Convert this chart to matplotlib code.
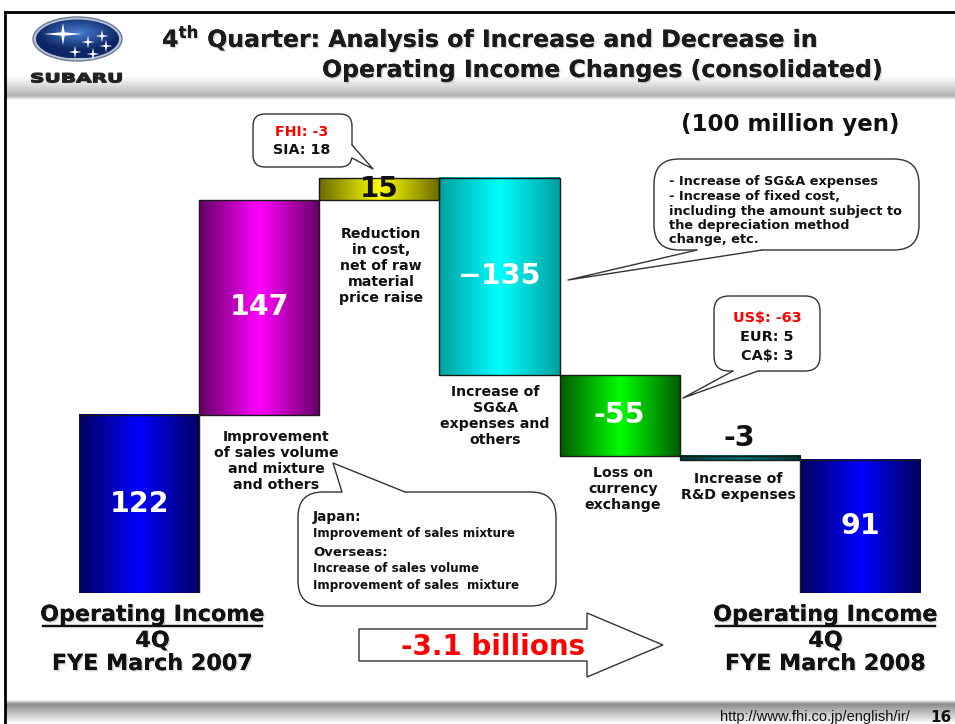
import numpy as np
import matplotlib
matplotlib.use("Agg")
import matplotlib.pyplot as plt
import matplotlib.patheffects as pe
from matplotlib.patches import FancyBboxPatch, Polygon, Ellipse, PathPatch
from matplotlib.colors import to_rgb
from matplotlib.textpath import TextPath
from matplotlib.font_manager import FontProperties
from matplotlib.transforms import Affine2D

plt.rcParams["font.family"] = ["DejaVu Sans"]

# waterfall data (100 million yen)
categories = ["Operating Income 4Q FYE March 2007",
              "Improvement of sales volume and mixture and others",
              "Reduction in cost, net of raw material price raise",
              "Increase of SG&A expenses and others",
              "Loss on currency exchange",
              "Increase of R&D expenses",
              "Operating Income 4Q FYE March 2008"]
values = [122, 147, 15, -135, -55, -3, 91]
is_total = [True, False, False, False, False, False, True]
value_labels = ["122", "147", "15", "\u2212135", "-55", "-3", "91"]

cat_texts = ["Improvement\nof sales volume\nand mixture\nand others",
             "Reduction\nin cost,\nnet of raw\nmaterial\nprice raise",
             "Increase of\nSG&A\nexpenses and\nothers",
             "Loss on\ncurrency\nexchange",
             "Increase of\nR&D expenses"]

# gradient colours: (edge, centre)
grads = [("#00005e", "#0000ff"), ("#640064", "#ff00ff"), ("#6a6a00", "#ffff00"),
         ("#00a0a0", "#00ffff"), ("#005a00", "#00ff00"), ("#003838", "#007272"),
         ("#00005e", "#0000ff")]

W, H = 955, 724
fig = plt.figure(figsize=(W / 100, H / 100), dpi=100)
fig.patch.set_facecolor("white")

# pixel overlay for slide decoration
ov = fig.add_axes([0, 0, 1, 1], zorder=5)
ov.set_xlim(0, W)
ov.set_ylim(H, 0)
ov.set_axis_off()
ov.patch.set_alpha(0)

# chart axes
PX_PER_UNIT = 1.462
left_px, right_px, top_px, base_px = 79, 920, 150, 593
ax = fig.add_axes([left_px / W, (H - base_px) / H, (right_px - left_px) / W, (base_px - top_px) / H], zorder=3)
ax.set_axis_off()
ax.patch.set_alpha(0)

x = np.arange(len(values))
bottoms, heights = [], []
run = 0
for v, tot in zip(values, is_total):
    if tot:
        bottoms.append(0)
        heights.append(v)
        run = v
    else:
        bottoms.append(run if v >= 0 else run + v)
        heights.append(abs(v))
        run += v

bars = ax.bar(x, heights, bottom=bottoms, width=1.0, facecolor="none",
              edgecolor="#1a1a1a", linewidth=1.0, zorder=3)
t = np.linspace(0, 1, 256)
prof = 1 - np.abs(2 * t - 1)
for rect, (c0, c1) in zip(bars, grads):
    a0, a1 = np.array(to_rgb(c0)), np.array(to_rgb(c1))
    img = (a0 + (a1 - a0) * prof[:, None])[None, :, :]
    x0, y0, w, h = rect.get_x(), rect.get_y(), rect.get_width(), rect.get_height()
    ax.imshow(img, extent=[x0, x0 + w, y0, y0 + h], aspect="auto",
              interpolation="bilinear", zorder=2)
ax.set_xlim(-0.5, len(values) - 0.5)
ax.set_ylim(0, (base_px - top_px) / PX_PER_UNIT)

for i, (b, h, lab) in enumerate(zip(bottoms, heights, value_labels)):
    if i == 5:
        ax.annotate(lab, (i, b + h), xytext=(0, 13), textcoords="offset points",
                    ha="center", va="center", fontsize=20.5, fontweight="bold",
                    color="#111111", zorder=6)
    elif i == 2:
        ax.text(i, b + h / 2, lab, ha="center", va="center", fontsize=20,
                fontweight="bold", color="#111111", zorder=6)
    else:
        ax.text(i, b + h / 2, lab, ha="center", va="center", fontsize=20.5,
                fontweight="bold", color="white", zorder=6)

# category labels under the change bars
cat_pos = [(276, 461), (381, 266), (495, 416), (623, 489), (738, 487)]
for (cx, cy), txt in zip(cat_pos, cat_texts):
    ov.text(cx, cy, txt, ha="center", va="center", multialignment="center",
            fontsize=10.2, fontweight="bold", color="#111111", zorder=4)

# ---- slide frame, header, footer ----
def vgrad(y0, y1, c0, c1, x0=5, x1=W):
    a0, a1 = np.array(to_rgb(c0)), np.array(to_rgb(c1))
    tt = np.linspace(0, 1, 64)
    img = (a0 + (a1 - a0) * tt[:, None])[:, None, :]
    ov.imshow(img, extent=[x0, x1, y1, y0], aspect="auto", interpolation="bilinear", zorder=1)

vgrad(76, 96, "#ffffff", "#b4b4b4")
vgrad(96, 100, "#b4b4b4", "#ffffff")
vgrad(700, 704, "#ffffff", "#8c8c8c")
vgrad(704, 722, "#8c8c8c", "#f6f6f6")
ov.plot([5, 5], [12, H], color="black", lw=2, zorder=8)
ov.plot([5, W], [12, 12], color="black", lw=2, zorder=8)

# logo
outer = Ellipse((77.5, 39), 89, 44, fc="#b8c2d4", ec="#6d7d99", lw=1, zorder=2)
ov.add_patch(outer)
inner = Ellipse((77.5, 39), 83, 39, fc="none", ec="none", zorder=3)
ov.add_patch(inner)
gx, gy = np.meshgrid(np.linspace(-1, 1, 120), np.linspace(-1, 1, 80))
rad = np.clip(np.sqrt(gx ** 2 + ((gy + 0.3) * 1.1) ** 2), 0, 1)
b0, b1 = np.array(to_rgb("#4a7fd0")), np.array(to_rgb("#0b2565"))
logo_img = b0 + (b1 - b0) * rad[:, :, None]
im = ov.imshow(logo_img, extent=[36, 119, 58.5, 19.5], aspect="auto", zorder=3)
im.set_clip_path(inner)


def star(cx, cy, rx, ry):
    pts = []
    r_in = min(rx, ry) * 0.22
    for k in range(8):
        ang = np.pi / 4 * k
        if k % 2 == 0:
            rr = rx if k % 4 == 0 else ry
            pts.append((cx + rr * np.cos(ang), cy - rr * np.sin(ang)))
        else:
            pts.append((cx + r_in * np.cos(ang), cy - r_in * np.sin(ang)))
    return Polygon(pts, closed=True, fc="white", ec="none", zorder=4)


ov.add_patch(star(63, 34, 19, 11))
for sx_, sy_ in [(102, 36), (88, 42), (106, 46), (75, 52), (93, 54)]:
    ov.add_patch(star(sx_, sy_, 6.5, 6.5))

tp = TextPath((0, 0), "SUBARU", size=1, prop=FontProperties(family="DejaVu Sans", weight="bold"))
ext = tp.get_extents()
tr = Affine2D().translate(-ext.x0, -ext.y0).scale(90 / ext.width, -9.5 / ext.height).translate(31.5, 82.5)
ov.add_patch(PathPatch(tr.transform_path(tp), fc="#222222", ec="#222222", lw=0.9, zorder=4))

shadow = [pe.withSimplePatchShadow(offset=(1, -1), shadow_rgbFace="#a0a0a0", alpha=0.45), pe.Normal()]
ov.text(162, 47, r"4$^{\mathbf{th}}$ Quarter: Analysis of Increase and Decrease in", ha="left",
        va="baseline", fontsize=17, fontweight="bold", color="#1a1a1a", path_effects=shadow, zorder=6)
ov.text(322, 77, "Operating Income Changes (consolidated)", ha="left", va="baseline",
        fontsize=17, fontweight="bold", color="#1a1a1a", path_effects=shadow, zorder=6)
ov.text(681, 125, "(100 million yen)", ha="left", va="center", fontsize=16.5,
        fontweight="bold", color="#111111", zorder=6)

ov.text(910, 717, "http://www.fhi.co.jp/english/ir/", ha="right", va="center",
        fontsize=10.5, family="Liberation Sans", color="#111111", zorder=6)
ov.text(930, 717, "16", ha="left", va="center", fontsize=11, fontweight="bold",
        color="#111111", zorder=6)


# ---- callouts ----
def callout(x0, y0, x1, y1, base1, base2, tip, inward, r):
    ov.add_patch(FancyBboxPatch((x0, y0), x1 - x0, y1 - y0,
                                boxstyle=f"round,pad=0,rounding_size={r}",
                                fc="white", ec="#333333", lw=1.0, zorder=6))
    dx, dy = inward
    fill = [base1, tip, base2, (base2[0] + dx, base2[1] + dy), (base1[0] + dx, base1[1] + dy)]
    ov.add_patch(Polygon(fill, closed=True, fc="white", ec="none", zorder=7))
    ov.plot([base1[0], tip[0], base2[0]], [base1[1], tip[1], base2[1]],
            color="#333333", lw=1.0, zorder=7)


callout(253, 114, 352, 167, (352, 145), (352, 158), (373, 169), (-2.5, 0), 12)
ov.text(302, 132, "FHI: -3", ha="center", va="center", fontsize=10.3, fontweight="bold", color="#ff0000", zorder=8)
ov.text(302, 150, "SIA: 18", ha="center", va="center", fontsize=10.3, fontweight="bold", color="#111111", zorder=8)

callout(654, 159, 919, 250, (697, 250), (762, 250), (568, 280), (0, -2.5), 25)
sga_lines = ["- Increase of SG&A expenses", "- Increase of fixed cost,",
             "including the amount subject to", "the depreciation method", "change, etc."]
for yy, ln in zip([182, 197, 212, 226, 240], sga_lines):
    ov.text(669, yy, ln, ha="left", va="center", fontsize=9.3, fontweight="bold", color="#111111", zorder=8)

callout(714, 296, 820, 371, (733, 371), (758, 371), (683, 398), (0, -2.5), 15)
for yy, ln, col in zip([318, 337, 356], ["US$: -63", "EUR: 5", "CA$: 3"], ["#ff0000", "#111111", "#111111"]):
    ov.text(767, yy, ln, ha="center", va="center", fontsize=10.4, fontweight="bold", color=col, zorder=8)

callout(298, 492, 556, 606, (342, 492), (405, 492), (333, 463), (0, 2.5), 25)
jp_lines = [("Japan:", 517, 9.8), ("Improvement of sales mixture", 533, 8.6),
            ("Overseas:", 552, 9.5), ("Increase of sales volume", 569, 8.6),
            ("Improvement of sales  mixture", 586, 8.6)]
for ln, yy, fs in jp_lines:
    ov.text(313, yy, ln, ha="left", va="center", fontsize=fs, fontweight="bold", color="#111111", zorder=8)

# ---- bottom labels ----
for cx, year in [(152.5, "2007"), (825.5, "2008")]:
    ov.text(cx, 615, "Operating Income", ha="center", va="center", fontsize=16,
            fontweight="bold", color="#111111", path_effects=shadow, zorder=6)
    ov.plot([cx - 109.5, cx + 109.5], [626, 626], color="#111111", lw=1.6,
            path_effects=shadow, zorder=6)
    ov.text(cx, 641, "4Q", ha="center", va="center", fontsize=16, fontweight="bold",
            color="#111111", path_effects=shadow, zorder=6)
    ov.text(cx, 664, f"FYE March {year}", ha="center", va="center", fontsize=16,
            fontweight="bold", color="#111111", path_effects=shadow, zorder=6)

arrow = [(359, 629), (587, 629), (587, 613), (663, 645), (587, 677), (587, 661), (359, 661)]
ov.add_patch(Polygon(arrow, closed=True, fc="white", ec="#333333", lw=1.0, zorder=5))
ov.text(493, 647, "-3.1 billions", ha="center", va="center", fontsize=20,
        fontweight="bold", color="#ff0000", zorder=6)

fig.savefig("out.png", dpi=100)
